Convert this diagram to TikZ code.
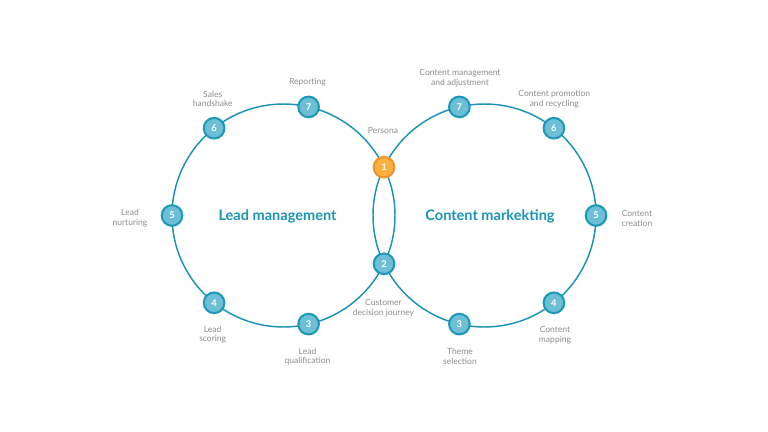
\documentclass[tikz,border=0pt]{standalone}
\usepackage{fontspec}
\setmainfont{Lato}
\definecolor{ringblue}{RGB}{26,147,181}
\definecolor{stepfill}{RGB}{108,191,213}
\definecolor{stepline}{RGB}{27,151,184}
\definecolor{orangefill}{RGB}{251,176,64}
\definecolor{orangeline}{RGB}{242,144,42}
\definecolor{labelgray}{RGB}{140,140,140}
\tikzset{every picture/.style={line width=0.75pt}}
\tikzset{
  stepnode/.style={circle, draw=stepline, fill=stepfill, line width=1.5pt, minimum size=15.5pt, inner sep=0pt, text=white, font=\fontsize{7}{7}\selectfont\bfseries},
  personanode/.style={stepnode, draw=orangeline, fill=orangefill},
  steplabel/.style={align=center, inner sep=0.75pt, text=labelgray, font=\fontsize{6.4}{7.3}\selectfont},
  cycletitle/.style={inner sep=0.75pt, text=ringblue, font=\fontsize{10.9}{12}\selectfont\bfseries}
}

\begin{document}
\begin{tikzpicture}[x=0.75pt,y=0.75pt,yscale=-1,xscale=1]
\useasboundingbox (0,0) rectangle (768,432);

%Shape: Circle [id:lead]
\coordinate (leadc) at (283.5,215.5);
\draw [color=ringblue, line width=1.1pt] (leadc) circle [radius=111.5];
%Shape: Circle [id:content]
\coordinate (contc) at (484.5,215.5);
\draw [color=ringblue, line width=1.1pt] (contc) circle [radius=111.5];

% Shared steps
\node [personanode] (p1) at (384,167.2) {1};
\node [stepnode] (p2) at (384,263.8) {2};
% Lead management steps
\node [stepnode] (l3) at (308.6,324.1) {3};
\node [stepnode] (l4) at (214.1,302.8) {4};
\node [stepnode] (l5) at (172,215.5) {5};
\node [stepnode] (l6) at (214.1,128.2) {6};
\node [stepnode] (l7) at (308.6,106.9) {7};
% Content marketing steps
\node [stepnode] (c3) at (459.4,324.1) {3};
\node [stepnode] (c4) at (553.9,302.8) {4};
\node [stepnode] (c5) at (596,215.5) {5};
\node [stepnode] (c6) at (553.9,128.2) {6};
\node [stepnode] (c7) at (459.4,106.9) {7};

% Titles
\node [cycletitle] (leadtitle) at (277.5,216) {Lead management};
\node [cycletitle] (conttitle) at (490,216) {Content markekting};

% Text Node
\node [steplabel] (tpersona) at (383,130) {Persona};
\node [steplabel] (tjourney) at (383.5,308) {Customer\\decision journey};
% Text Node
\node [steplabel] (treport) at (307.5,82.5) {Reporting};
\node [steplabel] (tsales) at (212.7,99) {Sales\\handshake};
\node [steplabel] (tnurture) at (130,218.5) {Lead\\nurturing};
\node [steplabel] (tscore) at (212.7,334.5) {Lead\\scoring};
\node [steplabel] (tqualify) at (307.5,356.5) {Lead\\qualification};
% Text Node
\node [steplabel] (tadjust) at (460,78) {Content management\\and adjustment};
\node [steplabel] (trecycle) at (554.3,99.5) {Content promotion\\and recycling};
\node [steplabel] (tcreate) at (637,218.5) {Content\\creation};
\node [steplabel] (tmapping) at (555,335) {Content\\mapping};
\node [steplabel] (ttheme) at (460,356.5) {Theme\\selection};

\end{tikzpicture}
\end{document}
